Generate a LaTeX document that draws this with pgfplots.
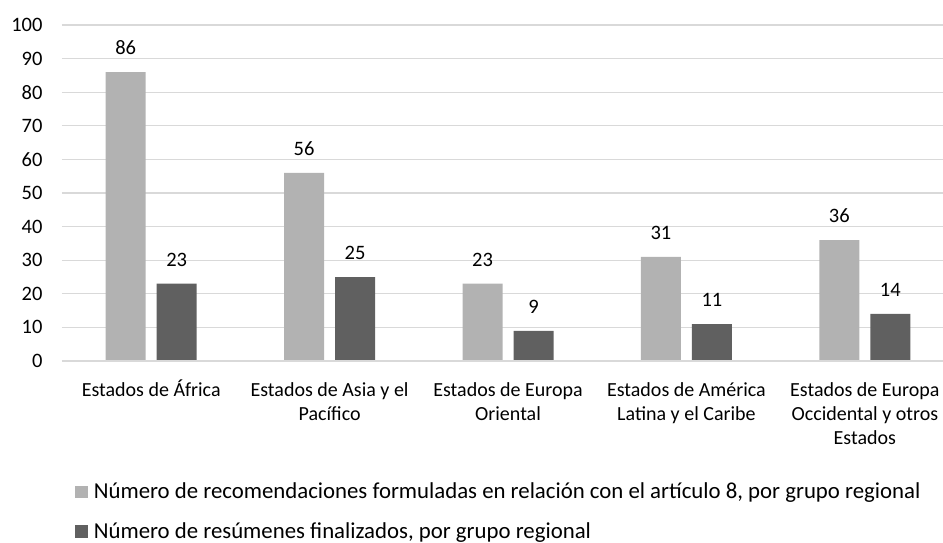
\documentclass[border=0pt]{standalone}
\usepackage{pgfplots}
\pgfplotsset{compat=1.18}
\usepackage{fontspec}
\setmainfont{Carlito}
\definecolor{lightbar}{HTML}{B2B2B2}
\definecolor{darkbar}{HTML}{606060}
\definecolor{gridc}{HTML}{D9D9D9}
\begin{document}
\fontsize{20}{24.4}\selectfont
\begin{tikzpicture}
\begin{axis}[
  scale only axis,
  width=881pt, height=336pt,
  xmin=-0.5, xmax=4.438,
  ymin=0, ymax=100,
  ytick={0,10,...,100},
  xtick={0,1,2,3,4},
  xticklabels={{\strut Estados de África},{\strut Estados de Asia y el\\Pacífico},{\strut Estados de Europa\\Oriental},{\strut Estados de América\\Latina y el Caribe},{\strut Estados de Europa\\Occidental y otros\\Estados}},
  xticklabel style={align=center, anchor=north, inner sep=0pt, yshift=-18.9pt, font=\fontsize{20}{24}\selectfont},
  yticklabel style={anchor=east, inner sep=0pt, xshift=-19.3pt, font=\fontsize{20.5}{24}\selectfont},
  /pgf/number format/assume math mode=true,
  major tick length=0pt,
  axis line style={draw=none},
  axis x line*=bottom,
  ymajorgrids, grid style={gridc, line width=1.3pt},
  ybar=11pt, bar width=40pt,
  clip=false,
  nodes near coords,
  every node near coord/.append style={inner sep=0pt, anchor=south, yshift=17pt, font=\fontsize{20.5}{24}\selectfont, black},
  legend style={draw=none, fill=none, at={(0.0148,-0.355)}, anchor=north west, inner sep=0pt, row sep=17pt, legend cell align=left, font=\fontsize{22.8}{27}\selectfont, /tikz/every odd column/.append style={column sep=4pt}},
  legend image code/.code={\fill[#1] (0pt,-6.3pt) rectangle (12.6pt,6.3pt);},
]
\addplot[fill=lightbar, draw=none] coordinates {(0,86) (1,56) (2,23) (3,31) (4,36)};
\addplot[fill=darkbar, draw=none] coordinates {(0,23) (1,25) (2,9) (3,11) (4,14)};
\addlegendentry{Número de recomendaciones formuladas en relación con el artículo 8, por grupo regional}
\addlegendentry{Número de resúmenes finalizados, por grupo regional}
\draw[gridc, line width=1.3pt] (axis cs:-0.5,0) -- (axis cs:4.438,0);
\end{axis}
\pgfresetboundingbox
\path[use as bounding box] ([xshift=-62pt,yshift=-181pt]current axis.south west) rectangle ([yshift=25pt]current axis.north east);
\end{tikzpicture}
\end{document}
